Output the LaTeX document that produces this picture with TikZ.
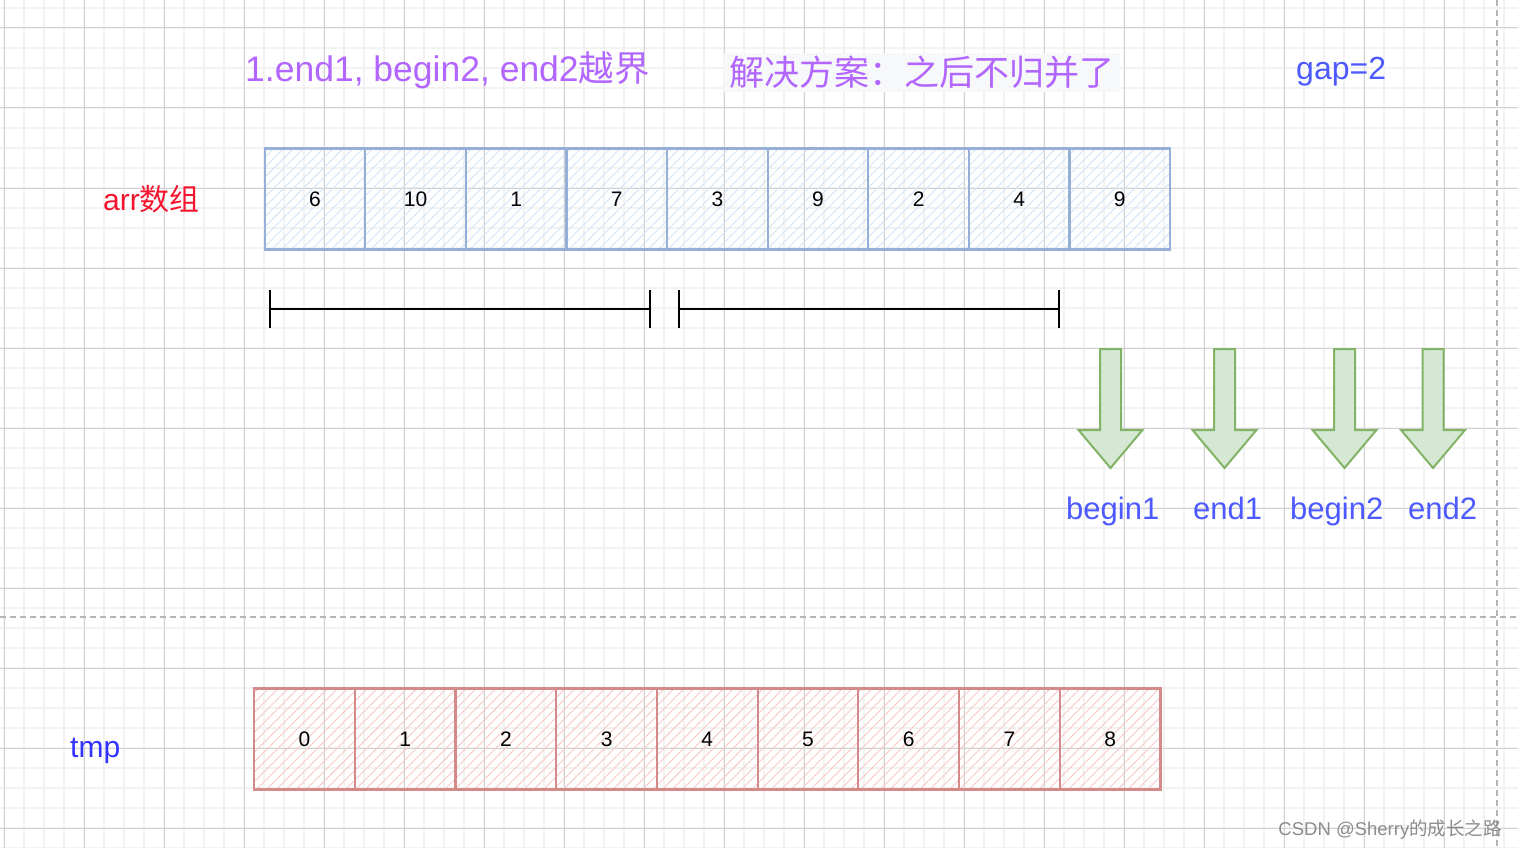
\documentclass[tikz,border=0pt]{standalone}
\usepackage{fontspec}
\setmainfont{Liberation Sans}
\newfontfamily\cjk{Noto Sans CJK SC}
\usetikzlibrary{patterns.meta}
\definecolor{minorgrid}{HTML}{F2F2F2}
\definecolor{majorgrid}{HTML}{D2D2D2}
\definecolor{bluestroke}{HTML}{96AFD7}
\definecolor{bluehatch}{HTML}{D6E3F7}
\definecolor{redstroke}{HTML}{D38A88}
\definecolor{redhatch}{HTML}{F6C9C8}
\definecolor{greenfill}{HTML}{D5E8D4}
\definecolor{greenstroke}{HTML}{82B366}
\definecolor{titlepurple}{HTML}{B266FF}
\definecolor{labelblue}{HTML}{4D5AFF}
\definecolor{tmpblue}{HTML}{3333FF}
\definecolor{arrred}{HTML}{F5142D}
\definecolor{notebg}{HTML}{F7F8FA}
\definecolor{dashgray}{HTML}{B5B5B5}
\definecolor{wmgray}{HTML}{8C8C8C}
\begin{document}
\begin{tikzpicture}[x=1pt,y=-1pt,
  minorline/.style={minorgrid, line width=2},
  majorline/.style={majorgrid, line width=1},
  arrbox/.style={draw=bluestroke, line width=2.2, minimum width=100.6, minimum height=101,
     inner sep=0, pattern={Lines[angle=45,distance=7pt,line width=0.9pt]}, pattern color=bluehatch,
     font=\fontsize{21}{25}\selectfont},
  tmpbox/.style={draw=redstroke, line width=2.2, minimum width=100.7, minimum height=101,
     inner sep=0, pattern={Lines[angle=45,distance=7pt,line width=0.9pt]}, pattern color=redhatch,
     font=\fontsize{21}{25}\selectfont},
  interval/.style={black, line width=2},
  tick/.style={black, line width=2.6},
  garrow/.style={fill=greenfill, draw=greenstroke, line width=2, line join=miter},
  ptrlabel/.style={anchor=base west, inner sep=0, text=labelblue, font=\fontsize{31}{36}\selectfont},
  dashline/.style={dashgray, line width=1.6, dash pattern=on 6pt off 4pt}
]
\useasboundingbox (0,0) rectangle (1518,848);
\fill[white] (0,0) rectangle (1518,848);
% grid
\foreach \x in {4,24,...,1504} \draw[minorline] (\x,0) -- (\x,848);
\foreach \y in {8,28,...,848} \draw[minorline] (0,\y) -- (1518,\y);
\foreach \x in {4,84,...,1444} \draw[majorline] (\x,0) -- (\x,848);
\foreach \y in {28,108,...,828} \draw[majorline] (0,\y) -- (1518,\y);
% dashed separators
\coordinate (hl) at (0,617);
\coordinate (hr) at (1518,617);
\coordinate (vt) at (1497,0);
\coordinate (vb) at (1497,848);
\draw[dashline] (hl) -- (hr);
\draw[dashline] (vt) -- (vb);

% titles
\node[anchor=base west, inner sep=0, text=titlepurple, font=\fontsize{35.5}{42}\selectfont] (title) at (245,82) {1.end1, begin2, end2{\cjk 越界}};
\node[fill=notebg, minimum width=396, minimum height=39, inner sep=0, text=titlepurple,
      font=\fontsize{35}{40}\cjk\selectfont] (note) at (922,72.5) {解决方案：之后不归并了};
\node[anchor=base west, inner sep=0, text=labelblue, font=\fontsize{32}{38}\selectfont] (gap) at (1296,80) {gap=2};

% arr
\node[anchor=base west, inner sep=0, text=arrred, font=\fontsize{30}{36}\selectfont] (arrlabel) at (103,210) {arr{\cjk 数组}};
\foreach \v [count=\i from 0] in {6,10,1,7,3,9,2,4,9}
  \node[arrbox] (a\i) at (315+100.6*\i,199) {\v};

% intervals
\coordinate (s1a) at (270,309);
\coordinate (s1b) at (650,309);
\coordinate (s2a) at (679,309);
\coordinate (s2b) at (1059,309);
\draw[interval] (s1a) -- (s1b);
\draw[interval] (s2a) -- (s2b);
\foreach \p in {s1a,s1b,s2a,s2b}
  \draw[tick] ([yshift=-19pt]\p) -- ([yshift=19pt]\p);

% green arrows
\foreach \c in {1110.5,1224.5,1344.5,1433}
  \draw[garrow] (\c-10.5,349) -- (\c+10.5,349) -- (\c+10.5,430) -- (\c+32,430) -- (\c,468)
     -- (\c-32,430) -- (\c-10.5,430) -- cycle;
\node[ptrlabel] (lb1) at (1066,519) {begin1};
\node[ptrlabel] (le1) at (1193,519) {end1};
\node[ptrlabel] (lb2) at (1290,519) {begin2};
\node[ptrlabel] (le2) at (1408,519) {end2};

% tmp
\node[anchor=base west, inner sep=0, text=tmpblue, font=\fontsize{30}{36}\selectfont] (tmplabel) at (70,757) {tmp};
\foreach \v [count=\i from 0] in {0,1,2,3,4,5,6,7,8}
  \node[tmpbox] (t\i) at (304.5+100.7*\i,739) {\v};

% watermark
\node[anchor=base east, inner sep=0, text=wmgray, font=\fontsize{18.5}{22}\selectfont] (wm) at (1502,835) {CSDN @Sherry{\cjk 的成长之路}};
\end{tikzpicture}
\end{document}
